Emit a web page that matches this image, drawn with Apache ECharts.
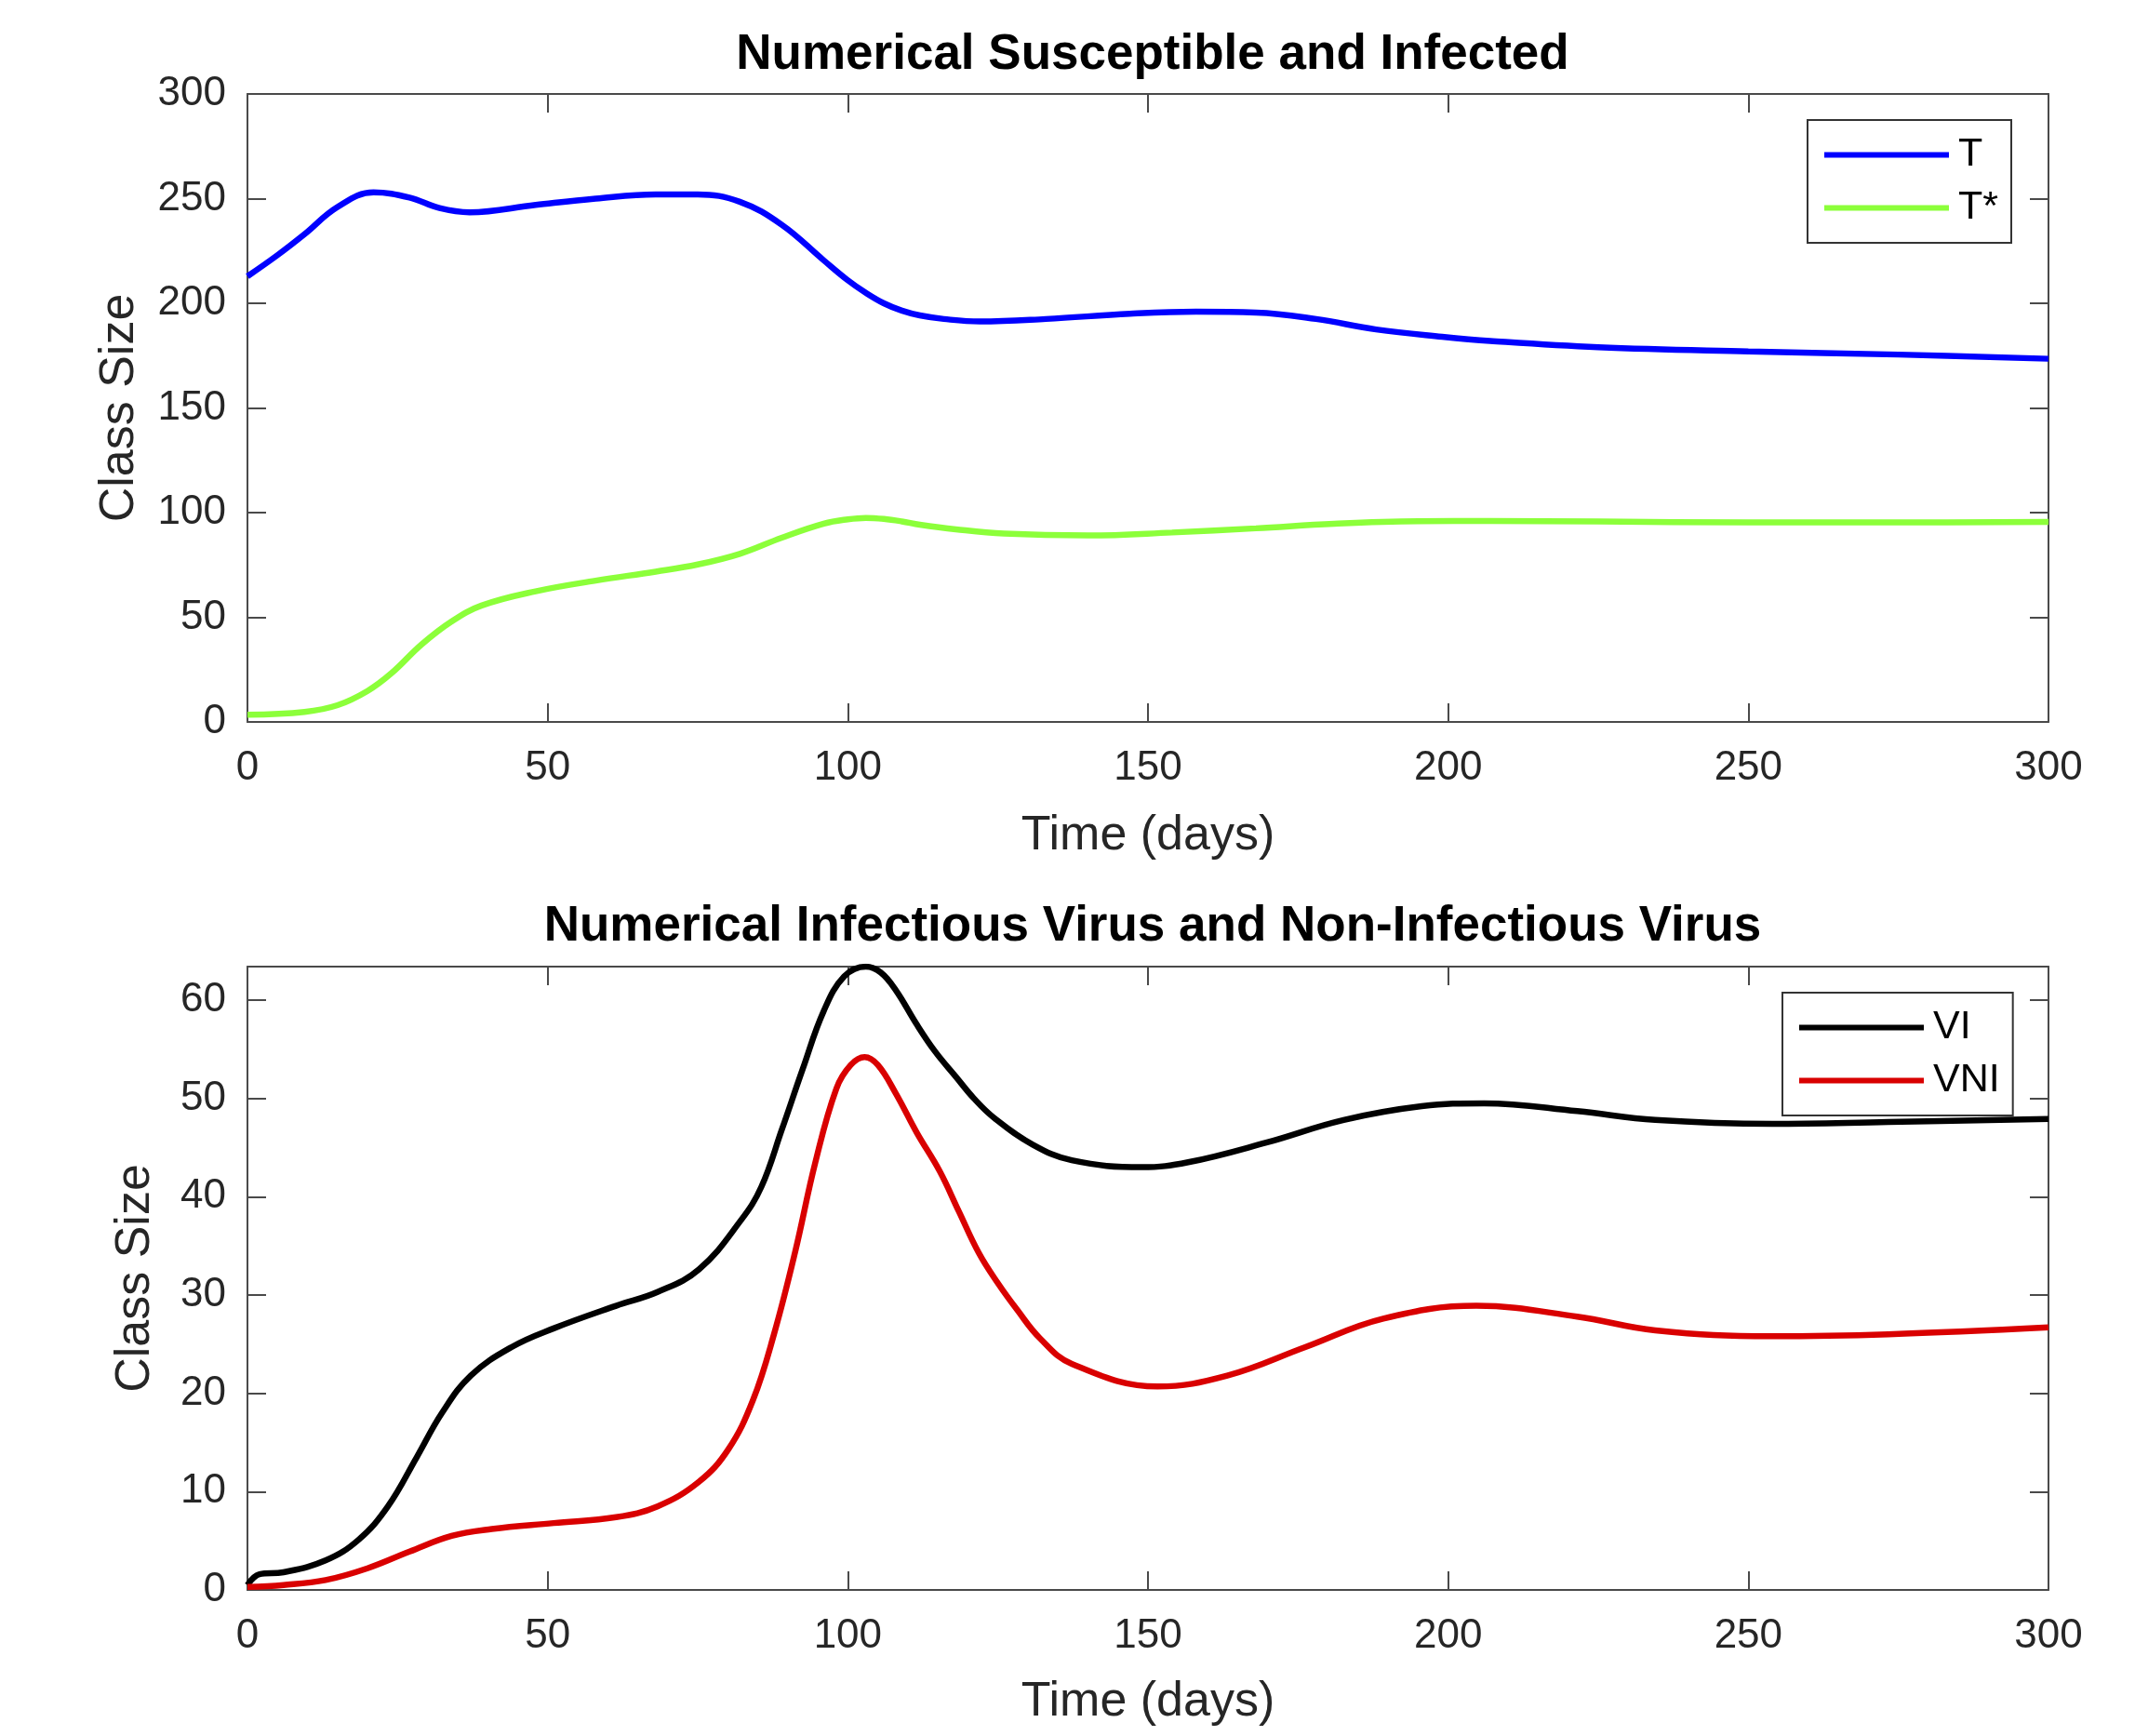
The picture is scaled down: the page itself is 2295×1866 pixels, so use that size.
<!DOCTYPE html>
<html>
<head>
<meta charset="utf-8">
<script src="https://cdn.jsdelivr.net/npm/echarts@6/dist/echarts.min.js"></script>
<style>html,body{margin:0;padding:0;background:#fff}#c{width:2295px;height:1866px}</style>
</head>
<body>
<div id="c"></div>
<script>
// ---- Data ----
const xTicks = [0, 50, 100, 150, 200, 250, 300];

const tDays = [0, 5, 9.5, 15, 21, 27, 32, 37, 48, 58, 68, 75, 82, 89, 96, 100, 103, 106, 109, 112, 116, 122, 133, 147, 158, 168, 178, 188, 199, 207, 225, 250, 275, 300];
const tVals = [212.9, 223, 233, 246, 253, 250.5, 245.5, 243.5, 247, 250, 252, 252, 248.5, 237.5, 220.5, 211, 205, 200, 196.5, 194.2, 192.5, 191.3, 192.5, 195, 196, 195.6, 192.5, 187.5, 184, 182, 179, 177, 175.5, 173.5];

const tStarDays = [0, 9.5, 15, 20, 24, 29, 34, 39, 48, 58, 68, 75, 82, 89, 96, 100, 103, 106, 109, 112, 118, 126, 140, 154, 168, 181, 195, 207, 225, 250, 275, 300];
const tStarVals = [3.4, 4.8, 8, 14.8, 23.3, 37, 48, 55.6, 62.4, 67.5, 71.8, 75.2, 80.3, 88, 94.7, 96.8, 97.5, 97, 95.8, 94.2, 92, 90, 89.1, 90.5, 92.5, 94.7, 95.9, 96, 95.8, 95.3, 95.3, 95.6];

const viDays = [0, 2, 6, 13, 18.5, 23.4, 28.2, 32.4, 37.2, 44, 51, 61.4, 68.3, 75.2, 82.2, 85.6, 89, 92.5, 96, 99.4, 103, 105.5, 108, 111.4, 114.5, 118, 121, 124.4, 130.8, 137.3, 149, 156.7, 169.7, 182.6, 195.6, 206, 221.5, 234.5, 254, 273.3, 300];
const viVals = [0.5, 1.6, 1.8, 3, 5.1, 8.5, 13.5, 18, 21.8, 24.7, 26.6, 28.9, 30.3, 32.6, 37.6, 41, 46.8, 53, 58.9, 62.4, 63.4, 62.8, 61, 57.6, 54.8, 52.2, 50, 48, 45.3, 43.7, 43, 43.5, 45.5, 47.8, 49.2, 49.5, 48.7, 47.8, 47.4, 47.6, 47.9];

const vniDays = [0, 6, 13, 20, 27, 34, 40.7, 51, 61.4, 68.3, 75.2, 80.1, 84.2, 87.7, 91.2, 94.6, 98.1, 100.5, 102.8, 105, 108, 111.5, 115.3, 118.5, 121.8, 125, 128.2, 132, 137.3, 151.6, 163.2, 176.2, 189.2, 204.7, 221.5, 234.5, 253.9, 273.3, 300];
const vniVals = [0.3, 0.5, 1, 2.2, 3.9, 5.5, 6.2, 6.8, 7.4, 8.5, 11, 14.3, 19.3, 26, 34.3, 43.5, 51, 53.4, 54.2, 53.4, 50.5, 46.5, 42.6, 38.5, 34.3, 31.2, 28.5, 25.6, 23, 20.7, 21.8, 24.7, 27.6, 28.9, 27.8, 26.4, 25.8, 26, 26.7];

const titles = ['Numerical Susceptible and Infected', 'Numerical Infectious Virus and Non-Infectious Virus'];
const xName = 'Time (days)';
const yName = 'Class Size';

// ---- Build ----
const zip = (a, b) => a.map((d, i) => [d, b[i]]);
const FONT = '"Liberation Sans", Arial, Helvetica, sans-serif';
const AX = '#4a4a4a';
const TXT = '#262626';

function xAx(grid, pos, gap) {
  const main = pos === 'bottom';
  return {
    type: 'value', gridIndex: grid, position: pos, min: 0, max: 300, interval: 50,
    name: main ? xName : '', nameLocation: 'middle', nameGap: gap,
    nameTextStyle: { fontFamily: FONT, fontSize: 52, color: TXT },
    axisLine: { show: true, onZero: false, lineStyle: { color: AX, width: 2 } },
    axisTick: { show: true, inside: true, length: 20, lineStyle: { color: AX, width: 2 } },
    axisLabel: { show: main, margin: 28, fontFamily: FONT, fontSize: 44, color: TXT },
    splitLine: { show: false }
  };
}
function yAx(grid, pos, max, interval, gap) {
  const main = pos === 'left';
  return {
    type: 'value', gridIndex: grid, position: pos, min: 0, max: max, interval: interval,
    name: main ? yName : '', nameLocation: 'middle', nameGap: gap, nameRotate: 90,
    nameTextStyle: { fontFamily: FONT, fontSize: 52, color: TXT },
    axisLine: { show: true, onZero: false, lineStyle: { color: AX, width: 2 } },
    axisTick: { show: true, inside: true, length: 20, lineStyle: { color: AX, width: 2 } },
    axisLabel: { show: main, margin: 23, fontFamily: FONT, fontSize: 44, color: TXT,
      formatter: v => (Math.abs(v / interval - Math.round(v / interval)) < 1e-6 ? String(v) : '') },
    splitLine: { show: false }
  };
}
function line(name, data, color, xi, yi) {
  return { name, type: 'line', data, xAxisIndex: xi, yAxisIndex: yi, smooth: 0.4,
    showSymbol: false, symbol: 'none', lineStyle: { color, width: 6.5 }, itemStyle: { color }, z: 3 };
}
function legend(names, left, top) {
  return {
    data: names, orient: 'vertical', left, top,
    icon: 'rect', itemWidth: 134, itemHeight: 6, itemGap: 14,
    padding: [16, 14, 16, 18], borderColor: '#333', borderWidth: 2, backgroundColor: '#fff',
    textStyle: { fontFamily: FONT, fontSize: 43, color: '#000', padding: [0, 0, 0, 5] },
    selectedMode: false
  };
}

const chart = echarts.init(document.getElementById('c'), null, { renderer: 'canvas' });
chart.setOption({
  backgroundColor: '#fff',
  animation: false,
  title: [
    { text: titles[0], left: 1234, top: 28, textAlign: 'center',
      textStyle: { fontFamily: FONT, fontSize: 53, fontWeight: 'bold', color: '#000' } },
    { text: titles[1], left: 1234, top: 965, textAlign: 'center',
      textStyle: { fontFamily: FONT, fontSize: 53, fontWeight: 'bold', color: '#000' } }
  ],
  legend: [legend(['T', 'T*'], 1943, 129), legend(['VI', 'VNI'], 1916, 1067)],
  grid: [
    { left: 266, top: 101, width: 1936, height: 675 },
    { left: 266, top: 1039, width: 1936, height: 670 }
  ],
  xAxis: [xAx(0, 'bottom', 97), xAx(0, 'top', 0), xAx(1, 'bottom', 95), xAx(1, 'top', 0)],
  yAxis: [yAx(0, 'left', 300, 50, 111), yAx(0, 'right', 300, 50, 0), yAx(1, 'left', 63.4, 10, 94), yAx(1, 'right', 63.4, 10, 0)],
  series: [
    line('T', zip(tDays, tVals), '#0000ff', 0, 0),
    line('T*', zip(tStarDays, tStarVals), '#8cff3a', 0, 0),
    line('VI', zip(viDays, viVals), '#000000', 2, 2),
    line('VNI', zip(vniDays, vniVals), '#d90000', 2, 2)
  ]
});
</script>
</body>
</html>
